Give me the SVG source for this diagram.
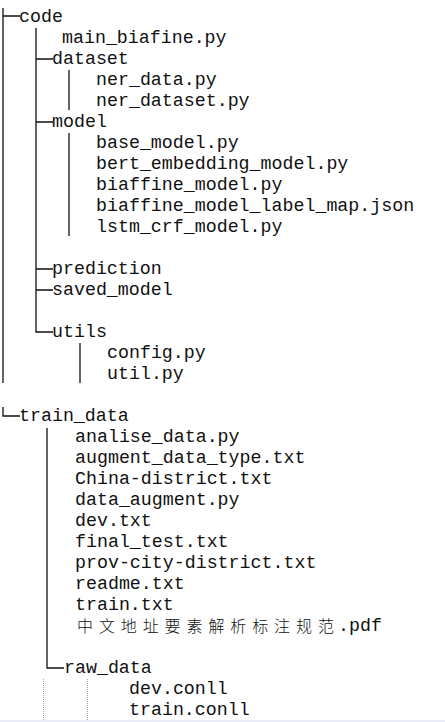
<svg xmlns="http://www.w3.org/2000/svg" width="445" height="722" viewBox="0 0 445 722">
<style>
  text { font-family: "Liberation Mono", "Courier New", "Noto Sans CJK SC", monospace; font-size: 18.3px; fill: #111; }
  .cjk { font-family: "Noto Sans CJK SC", "Noto Sans CJK JP", sans-serif; font-size: 16px; font-weight: 300; letter-spacing: 5.9px; }
  .ln { stroke: #111; stroke-width: 1.3; fill: none; }
  .dot { stroke: #a8a8a8; stroke-width: 1; stroke-dasharray: 1 1; fill: none; }
</style>
<rect width="445" height="722" fill="#ffffff"/>
<rect x="0" y="720" width="445" height="2" fill="#ececf8"/>
<g id="connectors">
  <path class="ln" d="M3 8 V383 M3 16 H20"/>
  <path class="ln" d="M36 28 V332 H53 M36 59 H53 M36 122 H53 M36 269 H53 M36 290 H53"/>
  <path class="ln" d="M69 70 V110"/>
  <path class="ln" d="M69 133 V236"/>
  <path class="ln" d="M80 343 V383"/>
  <path class="ln" d="M3 407 V416 H20"/>
  <path class="ln" d="M47 428 V668 H64"/>
  <path class="dot" d="M43.5 679 V720 M87.5 679 V720"/>
</g>
<g id="node-code"><text x="19" y="22">code</text></g>
<g id="node-main_biafine"><text x="62" y="43">main_biafine.py</text></g>
<g id="node-dataset"><text x="52" y="64">dataset</text></g>
<g id="node-ner_data"><text x="96" y="85">ner_data.py</text></g>
<g id="node-ner_dataset"><text x="96" y="106">ner_dataset.py</text></g>
<g id="node-model"><text x="52" y="127">model</text></g>
<g id="node-base_model"><text x="96" y="148">base_model.py</text></g>
<g id="node-bert_embedding_model"><text x="96" y="169">bert_embedding_model.py</text></g>
<g id="node-biaffine_model"><text x="96" y="190">biaffine_model.py</text></g>
<g id="node-biaffine_model_label_map"><text x="96" y="211">biaffine_model_label_map.json</text></g>
<g id="node-lstm_crf_model"><text x="96" y="232">lstm_crf_model.py</text></g>
<g id="node-prediction"><text x="52" y="274">prediction</text></g>
<g id="node-saved_model"><text x="52" y="295">saved_model</text></g>
<g id="node-utils"><text x="52" y="337">utils</text></g>
<g id="node-config"><text x="107" y="358">config.py</text></g>
<g id="node-util"><text x="107" y="379">util.py</text></g>
<g id="node-train_data"><text x="19" y="421">train_data</text></g>
<g id="node-analise_data"><text x="75" y="442">analise_data.py</text></g>
<g id="node-augment_data_type"><text x="75" y="463">augment_data_type.txt</text></g>
<g id="node-China-district"><text x="75" y="484">China-district.txt</text></g>
<g id="node-data_augment"><text x="75" y="505">data_augment.py</text></g>
<g id="node-dev"><text x="75" y="526">dev.txt</text></g>
<g id="node-final_test"><text x="75" y="547">final_test.txt</text></g>
<g id="node-prov-city-district"><text x="75" y="568">prov-city-district.txt</text></g>
<g id="node-readme"><text x="75" y="589">readme.txt</text></g>
<g id="node-train"><text x="75" y="610">train.txt</text></g>
<g id="node-spec-pdf"><text x="77" y="632"><tspan class="cjk">中文地址要素解析标注规范</tspan><tspan x="338" y="631">.pdf</tspan></text></g>
<g id="node-raw_data"><text x="64" y="673">raw_data</text></g>
<g id="node-dev-conll"><text x="129" y="694">dev.conll</text></g>
<g id="node-train-conll"><text x="129" y="715">train.conll</text></g>
</svg>
